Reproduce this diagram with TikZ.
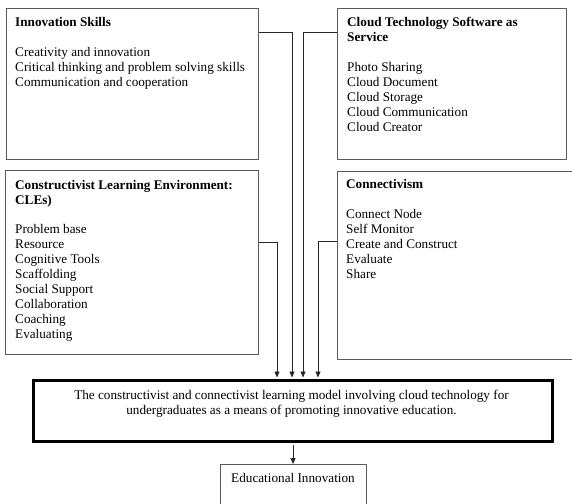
\documentclass[tikz,border=0pt]{standalone}
\usepackage{fontspec}
\setmainfont{Liberation Serif}
\usetikzlibrary{arrows.meta}

\tikzset{
  frame/.style={draw=black!65, line width=1pt, anchor=north west, inner sep=0pt},
  boxtext/.style={anchor=north west, inner sep=0pt, align=left, font=\fontsize{13.2}{15}\selectfont},
  link/.style={draw=black!85, line width=0.9pt, -{Triangle[length=6pt,width=5pt]}},
}

\begin{document}
\begin{tikzpicture}[x=1pt,y=1pt,yscale=-1,xscale=1]
\clip (0,0) rectangle (572,503);

%Boxes
\node [frame, minimum width=252pt, minimum height=151pt] (inno) at (6,8) {};
\node [frame, minimum width=229pt, minimum height=151pt] (cloud) at (337,8) {};
\node [frame, minimum width=253pt, minimum height=184pt] (cle) at (5,170) {};
\node [frame, minimum width=240pt, minimum height=188pt] (conn) at (337,171) {};
\node [frame, draw=black, line width=3pt, minimum width=519pt, minimum height=61pt] (model) at (32,379) {};
\node [frame, minimum width=146pt, minimum height=60pt] (edu) at (220,464) {};

% Text Node
\node [boxtext] (inno-txt) at (15,17) {\textbf{Innovation Skills}\\[15pt]
  Creativity and innovation\\
  Critical thinking and problem solving skills\\
  Communication and cooperation};
% Text Node
\node [boxtext] (cloud-txt) at (347,17) {\textbf{Cloud Technology Software as}\\
  \textbf{Service}\\[15pt]
  Photo Sharing\\
  Cloud Document\\
  Cloud Storage\\
  Cloud Communication\\
  Cloud Creator};
% Text Node
\node [boxtext] (cle-txt) at (15,180) {\textbf{Constructivist Learning Environment:}\\
  \textbf{CLEs)}\\[14pt]
  Problem base\\
  Resource\\
  Cognitive Tools\\
  Scaffolding\\
  Social Support\\
  Collaboration\\
  Coaching\\
  Evaluating};
% Text Node
\node [boxtext] (conn-txt) at (346,179) {\textbf{Connectivism}\\[15pt]
  Connect Node\\
  Self Monitor\\
  Create and Construct\\
  Evaluate\\
  Share};
% Text Node
\node [inner sep=0pt, align=center, font=\fontsize{13.2}{15}\selectfont] (model-txt) at (291.5,404)
  {The constructivist and connectivist learning model involving cloud technology for\\
   undergraduates as a means of promoting innovative education.};
% Text Node
\node [inner sep=0pt, font=\fontsize{13.2}{15}\selectfont] (edu-txt) at (293,478) {Educational Innovation};

%Straight Lines
\coordinate (j-cle) at (277,242);
\coordinate (j-inno) at (292,32);
\coordinate (j-cloud) at (303,32);
\coordinate (j-conn) at (318,241);

\draw [link, shorten >=1.5pt] (cle.east |- j-cle) -- (j-cle) -- (j-cle |- model.north);
\draw [link, shorten >=1.5pt] (inno.east |- j-inno) -- (j-inno) -- (j-inno |- model.north);
\draw [link, shorten >=1.5pt] (cloud.west |- j-cloud) -- (j-cloud) -- (j-cloud |- model.north);
\draw [link, shorten >=1.5pt] (conn.west |- j-conn) -- (j-conn) -- (j-conn |- model.north);
\draw [link, shorten <=1.5pt] (model.south) -- (model.south |- edu.north);
\end{tikzpicture}
\end{document}
